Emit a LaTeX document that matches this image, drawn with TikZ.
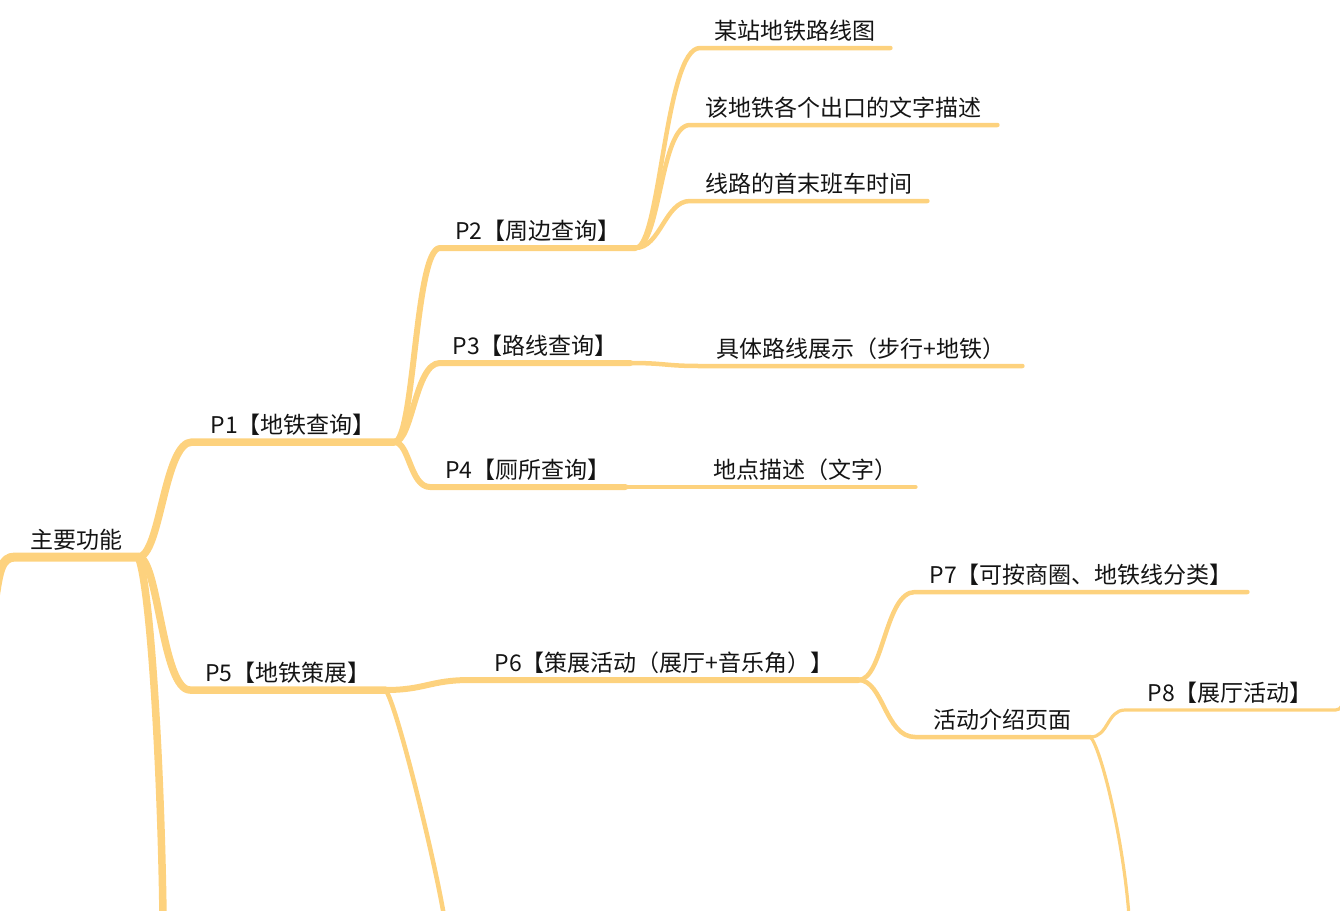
\documentclass[tikz,border=0pt]{standalone}
\usepackage{fontspec}
\newfontfamily\cjk{Noto Sans CJK SC}
\usepackage{xcolor}
\definecolor{branchorange}{RGB}{253,210,126}
\definecolor{topictext}{RGB}{20,20,20}
\usepackage{tikz}

\begin{document}
\begin{tikzpicture}[
    x=1pt, y=-1pt,
    topic/.style    = {anchor=south west, inner xsep=0pt, inner ysep=5pt,
                       text depth=3pt, align=center, text=topictext,
                       font=\cjk\fontsize{23}{27}\selectfont},
    rootArr/.style  = {draw=branchorange, line width=9pt,
                       line cap=round, line join=round},
    mainArr/.style  = {draw=branchorange, line width=7.5pt,
                       line cap=round, line join=round},
    subArr/.style   = {draw=branchorange, line width=6pt,
                       line cap=round, line join=round},
    leafArr/.style  = {draw=branchorange, line width=4.5pt,
                       line cap=round, line join=round},
    thinArr/.style  = {draw=branchorange, line width=3.2pt,
                       line cap=round, line join=round}
]
\useasboundingbox (0,0) rectangle (1340,910);

% ===== Root =====
\node[topic, minimum width=123pt] (root) at (15,557) {主要功能};
\coordinate (rootin)   at (-5,598);
\coordinate (rootdown) at (163,916);

% ===== P1 and its queries =====
\node[topic, minimum width=202pt] (p1) at (192,442) {P1【地铁查询】};
\node[topic, minimum width=195pt] (p2) at (440,248) {P2【周边查询】};
\node[topic, minimum width=190pt] (p3) at (440,363) {P3【路线查询】};
\node[topic, minimum width=195pt] (p4) at (430,487) {P4【厕所查询】};

\node[topic, minimum width=190pt] (stat)  at (700,48)  {某站地铁路线图};
\node[topic, minimum width=307pt] (exits) at (690,125) {该地铁各个出口的文字描述};
\node[topic, minimum width=237pt] (times) at (690,201) {线路的首末班车时间};
\node[topic, minimum width=322pt] (route) at (700,366) {具体路线展示（步行+地铁）};
\node[topic, minimum width=220pt] (place) at (695,487) {地点描述（文字）};

% ===== P5 and the exhibitions =====
\node[topic, minimum width=195pt] (p5)  at (190,690) {P5【地铁策展】};
\node[topic, minimum width=388pt] (p6)  at (470,680) {P6【策展活动（展厅+音乐角）】};
\node[topic, minimum width=332pt] (p7)  at (915,592) {P7【可按商圈、地铁线分类】};
\node[topic, minimum width=175pt] (act) at (915,737) {活动介绍页面};
\node[topic, minimum width=210pt] (p8)  at (1125,710) {P8【展厅活动】};
\coordinate (p5down)  at (444,916);
\coordinate (actdown) at (1129,916);
\coordinate (p8out)   at (1346,700);

% ===== Branches =====
\draw[rootArr] (rootin) .. controls +(4,-26) and +(-14,0) .. (root.south west)
   -- (root.south east);
\draw[mainArr] (root.south east) .. controls +(22,0) and +(-28,0) .. (p1.south west)
   -- (p1.south east);
\draw[mainArr] (root.south east) .. controls +(20,0) and +(-28,0) .. (p5.south west)
   -- (p5.south east);
\draw[mainArr] (root.south east) .. controls +(12,30) and +(-2,-150) .. (rootdown);

\draw[subArr] (p1.south east) .. controls +(20,0) and +(-25,0) .. (p2.south west)
   -- (p2.south east);
\draw[subArr] (p1.south east) .. controls +(18,0) and +(-25,0) .. (p3.south west)
   -- (p3.south east);
\draw[subArr] (p1.south east) .. controls +(15,0) and +(-20,0) .. (p4.south west)
   -- (p4.south east);

\draw[leafArr] (p2.south east) .. controls +(25,0) and +(-35,0) .. (stat.south west)
   -- (stat.south east);
\draw[leafArr] (p2.south east) .. controls +(25,0) and +(-30,0) .. (exits.south west)
   -- (exits.south east);
\draw[leafArr] (p2.south east) .. controls +(25,0) and +(-25,0) .. (times.south west)
   -- (times.south east);
\draw[leafArr] (p3.south east) .. controls +(35,0) and +(-35,0) .. (route.south west)
   -- (route.south east);
\draw[leafArr] (p4.south east) .. controls +(35,0) and +(-35,0) .. (place.south west)
   -- (place.south east);

\draw[subArr] (p5.south east) .. controls +(40,0) and +(-40,0) .. (p6.south west)
   -- (p6.south east);
\draw[leafArr] (p5.south east) .. controls +(10,10) and +(-10,-60) .. (p5down);

\draw[leafArr] (p6.south east) .. controls +(25,0) and +(-30,0) .. (p7.south west)
   -- (p7.south east);
\draw[leafArr] (p6.south east) .. controls +(25,0) and +(-30,0) .. (act.south west)
   -- (act.south east);

\draw[thinArr] (act.south east) .. controls +(18,0) and +(-18,0) .. (p8.south west)
   -- (p8.south east) .. controls +(6,0) and +(-4,4) .. (p8out);
\draw[thinArr] (act.south east) .. controls +(10,10) and +(-6,-80) .. (actdown);

\end{tikzpicture}
\end{document}
